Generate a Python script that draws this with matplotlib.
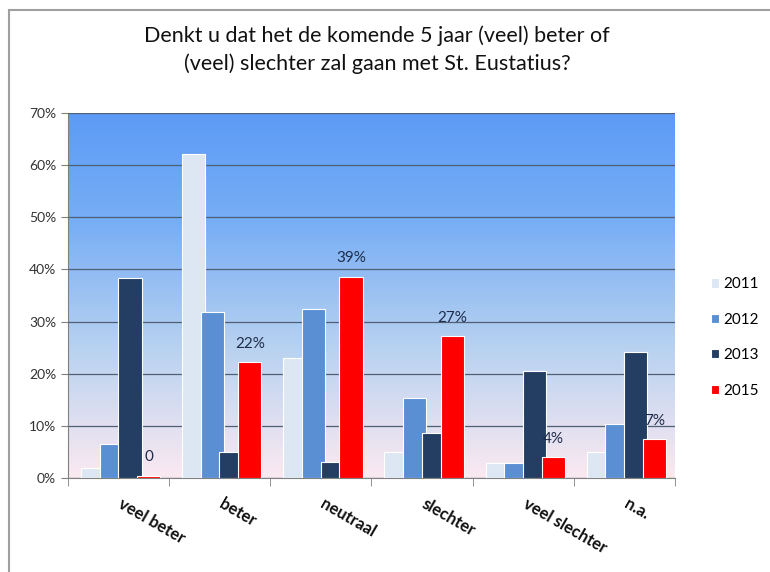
import numpy as np
import matplotlib
matplotlib.use("Agg")
from matplotlib import pyplot as plt
from matplotlib.colors import LinearSegmentedColormap
from matplotlib.patches import Rectangle

plt.rcParams['font.family'] = ['Lato', 'DejaVu Sans']

categories = ['veel beter', 'beter', 'neutraal', 'slechter', 'veel slechter', 'n.a.']
years = ['2011', '2012', '2013', '2015']
v2011 = [1.9, 62.2, 23.0, 5.0, 2.9, 5.0]
v2012 = [6.6, 31.9, 32.4, 15.3, 2.9, 10.4]
v2013 = [38.3, 5.0, 3.0, 8.6, 20.5, 24.1]
v2015 = [0.4, 22.2, 38.6, 27.2, 4.0, 7.4]
labels2015 = ['0', '22%', '39%', '27%', '4%', '7%']

colors = ['#dde7f3', '#5a8fd3', '#233e62', '#ff0000']
series = [v2011, v2012, v2013, v2015]

fig = plt.figure(figsize=(7.7, 5.72), dpi=100)
ax = fig.add_axes([0.0883, 0.1643, 0.7883, 0.638])

# chart frame (cut off at right/bottom in the original)
fig.patches.append(Rectangle((9/770, -0.05), 1.2, 1 - 10/572 + 0.05,
                             transform=fig.transFigure, fill=False,
                             edgecolor='#a0a0a0', linewidth=1.5))

# gradient background
cmap = LinearSegmentedColormap.from_list('bg', [(0, '#fbe9f1'), (0.35, '#b9d2f0'),
                                                (0.7, '#78aef5'), (1, '#5c9bf6')])
grad = np.linspace(0, 1, 256).reshape(-1, 1)
x = np.arange(len(categories))
ax.imshow(grad, aspect='auto', cmap=cmap, origin='lower',
          extent=[-0.5, len(categories) - 0.5, 0, 70], zorder=0)

width = 0.23
step = 0.185
for i, (vals, c) in enumerate(zip(series, colors)):
    pos = x + (i - 1.5) * step + 0.02
    bars = ax.bar(pos, vals, width, color=c, edgecolor='white', linewidth=0.8,
                  label=years[i], zorder=3 + i)
    if i == 3:
        for b, lab in zip(bars, labels2015):
            ax.text(b.get_x() + b.get_width() / 2, b.get_height() + 2.2, lab,
                    ha='center', va='bottom', fontsize=11, color='#1f2d4a', zorder=10)

ax.set_xlim(-0.5, len(categories) - 0.5)
ax.set_ylim(0, 70)
ax.set_yticks(np.arange(0, 71, 10))
ax.set_yticklabels(['%d%%' % t for t in range(0, 71, 10)], fontsize=10, color='#333333')
ax.yaxis.grid(True, color='#4f5f75', linewidth=0.9, zorder=1)
ax.set_axisbelow(False)

ax.set_xticks(x)
ax.set_xticklabels([])
ax.tick_params(axis='x', which='major', length=0)
ax.set_xticks(np.arange(-0.5, len(categories)), minor=True)
ax.tick_params(axis='x', which='minor', length=6, color='#808080', direction='out')
ax.tick_params(axis='y', length=5, color='#808080', direction='out')

for xi, cat in zip(x, categories):
    ax.text(xi + 0.01, -4.8, cat, rotation=-30, rotation_mode='anchor',
            ha='left', va='center', fontsize=12, fontweight='bold', color='#111111')

for s in ['top', 'right']:
    ax.spines[s].set_visible(False)
ax.spines['left'].set_color('#808080')
ax.spines['bottom'].set_color('#808080')

fig.text(0.49, 0.913, 'Denkt u dat het de komende 5 jaar (veel) beter of\n'
         '(veel) slechter zal gaan met St. Eustatius?',
         ha='center', va='center', fontsize=15.5, linespacing=1.45, color='#111111')

leg = fig.legend(loc='center left', bbox_to_anchor=(0.905, 0.41), frameon=False,
                 fontsize=11, handlelength=0.55, handleheight=0.55,
                 handletextpad=0.3, labelspacing=1.4)

fig.savefig('out.png', dpi=100)
